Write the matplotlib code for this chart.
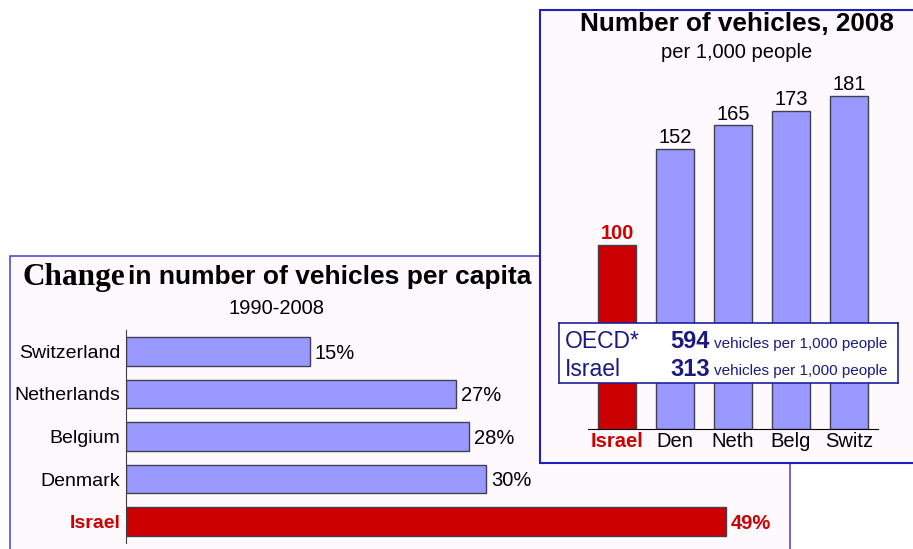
import matplotlib.pyplot as plt
from matplotlib.patches import Rectangle

# left chart: change in vehicles per capita, 1990-2008
change_countries = ['Israel', 'Denmark', 'Belgium', 'Netherlands', 'Switzerland']
change_pct = [49, 29.4, 28, 27, 15]
change_labels = ['49%', '30%', '28%', '27%', '15%']

# right chart: vehicles per 1,000 people (Israel = 100)
veh_countries = ['Israel', 'Den', 'Neth', 'Belg', 'Switz']
veh_index = [100, 152, 165, 173, 181]

oecd_rows = ['OECD*', 'Israel']
oecd_values = ['594', '313']

W, H = 913, 549
BLUE = '#9999ff'
RED = '#cc0000'
NAVY = '#1a1a80'
BG = '#fdf9fd'
FONT = 'Liberation Sans'


def px_axes(fig, x0, y0, x1, y1):
    # axes from pixel box (top-left origin)
    return fig.add_axes([x0 / W, 1 - y1 / H, (x1 - x0) / W, (y1 - y0) / H])


fig = plt.figure(figsize=(W / 100, H / 100), dpi=100)
fig.patch.set_facecolor('white')

# panel backgrounds
fig.patches.append(Rectangle((10 / W, 1 - 600 / H), 780 / W, 344 / H,
                             transform=fig.transFigure, facecolor=BG,
                             edgecolor='#5050d0', linewidth=1.2, zorder=0))
fig.patches.append(Rectangle((540 / W, 1 - 463 / H), 400 / W, 453 / H,
                             transform=fig.transFigure, facecolor=BG,
                             edgecolor='#2020c0', linewidth=1.5, zorder=1))

# ---- left chart ----
ax1 = px_axes(fig, 126, 330, 790, 543)
ax1.set_zorder(0.5)
ax1.patch.set_visible(False)
ypos = list(range(len(change_countries)))
colors1 = [RED] + [BLUE] * (len(change_countries) - 1)
ax1.barh(ypos, change_pct, height=0.67, color=colors1, edgecolor='#404050', linewidth=1)
ax1.set_xlim(0, 664 / 12.24)
ax1.set_ylim(-0.5, 4.5)
for s in ['top', 'right', 'bottom']:
    ax1.spines[s].set_visible(False)
ax1.spines['left'].set_color('#404040')
ax1.set_xticks([])
ax1.set_yticks(ypos)
ax1.set_yticklabels(change_countries, fontsize=14, family=FONT)
ax1.tick_params(axis='y', length=0, pad=4)
lab0 = ax1.get_yticklabels()[0]
lab0.set_color(RED)
lab0.set_fontweight('bold')
for i, (v, t) in enumerate(zip(change_pct, change_labels)):
    bold = i == 0
    ax1.text(v + 0.4, i - 0.04, t, va='center', ha='left', fontsize=14.5, family=FONT,
             color=RED if bold else 'black', fontweight='bold' if bold else 'normal')

fig.text(125 / W, 1 - 277 / H, 'Change', ha='right', va='center', fontsize=22.5,
         family='Liberation Serif', fontweight='bold', zorder=3)
fig.text(128 / W, 1 - 277 / H, 'in number of vehicles per capita', ha='left', va='center',
         fontsize=19, family=FONT, fontweight='bold', zorder=3)
fig.text(277 / W, 1 - 309 / H, '1990-2008', ha='center', va='center', fontsize=14.5, family=FONT)

# ---- right chart ----
ax2 = px_axes(fig, 588, 60, 878, 429)
ax2.set_zorder(2)
ax2.patch.set_visible(False)
xpos = list(range(len(veh_countries)))
colors2 = [RED] + [BLUE] * (len(veh_countries) - 1)
ax2.bar(xpos, veh_index, width=0.67, color=colors2, edgecolor='#404050', linewidth=1)
ax2.set_xlim(-0.5, 4.5)
ax2.set_ylim(0, 369 / 1.84)
for s in ['top', 'right', 'left']:
    ax2.spines[s].set_visible(False)
ax2.spines['bottom'].set_color('black')
ax2.set_yticks([])
ax2.set_xticks(xpos)
ax2.set_xticklabels(veh_countries, fontsize=14.5, family=FONT)
ax2.tick_params(axis='x', length=0, pad=2)
lab0 = ax2.get_xticklabels()[0]
lab0.set_color(RED)
lab0.set_fontweight('bold')
for i, v in enumerate(veh_index):
    bold = i == 0
    ax2.text(i, v + 1, str(v), ha='center', va='bottom', fontsize=14.5, family=FONT,
             color=RED if bold else 'black', fontweight='bold' if bold else 'normal')

fig.text(737 / W, 1 - 24 / H, 'Number of vehicles, 2008', ha='center', va='center',
         fontsize=18.8, family=FONT, fontweight='bold', zorder=3)
fig.text(737 / W, 1 - 53 / H, 'per 1,000 people', ha='center', va='center',
         fontsize=14.5, family=FONT, zorder=3)

# OECD inset box
ax3 = px_axes(fig, 559, 323, 898, 383)
ax3.set_zorder(3)
ax3.set_facecolor('white')
ax3.set_xticks([])
ax3.set_yticks([])
for s in ax3.spines.values():
    s.set_color('#2020a0')
    s.set_linewidth(1.2)
ax3.set_xlim(559, 898)
ax3.set_ylim(383, 323)
for j, (name, val) in enumerate(zip(oecd_rows, oecd_values)):
    yy = 342 + j * 27
    ax3.text(565, yy, name, ha='left', va='center', fontsize=16.5, family=FONT, color=NAVY)
    ax3.text(670, yy, val, ha='left', va='center', fontsize=17, family=FONT,
             color=NAVY, fontweight='bold')
    ax3.text(714, yy + 2, 'vehicles per 1,000 people', ha='left', va='center',
             fontsize=11, family=FONT, color=NAVY)

fig.savefig('out.png', dpi=100)
